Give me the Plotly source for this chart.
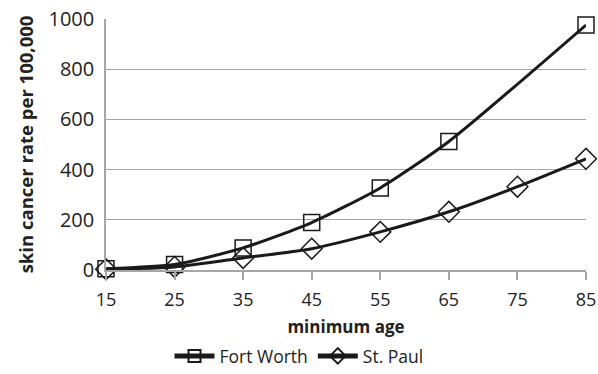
import plotly.graph_objects as go

ages = [15, 25, 35, 45, 55, 65, 75, 85]
fort_worth_ages = [15, 25, 35, 45, 55, 65, 85]
fort_worth = [5, 22, 88, 189, 327, 512, 976]
st_paul = [3, 12, 48, 85, 152, 232, 332, 443]

font = "'Open Sans', sans-serif"
ink = "#1a1a1a"
grid = "#a6a6a6"

fig = go.Figure()
series = [
    ("Fort Worth", fort_worth_ages, fort_worth, "square-open"),
    ("St. Paul", ages, st_paul, "diamond-open"),
]
for name, xs, ys, sym in series:
    fig.add_trace(go.Scatter(
        x=xs, y=ys, name=name, cliponaxis=False,
        mode="lines+markers", line=dict(color=ink, width=3, shape="spline", smoothing=0.6),
        marker=dict(symbol=sym, size=16, color=ink, line=dict(width=1.5)),
    ))

fig.update_layout(
    width=598, height=374,
    margin=dict(l=106, r=12, t=19, b=104, autoexpand=False),
    paper_bgcolor="white", plot_bgcolor="white",
    font=dict(family=font, size=17, color="#222"),
    showlegend=True,
    legend=dict(orientation="h", x=0.5, xanchor="center", xref="container",
                y=-0.005, yanchor="bottom", yref="container", itemsizing="constant",
                font=dict(size=17.5), itemwidth=40, tracegroupgap=0),
    xaxis=dict(
        range=[15, 85], tickvals=ages, showgrid=False, zeroline=False,
        showline=True, linecolor=grid, linewidth=1.5, automargin=False,
        ticks="outside", tickcolor=grid, ticklen=8, tickwidth=1.5,
        tickfont=dict(size=18), ticklabelstandoff=5,
        title=dict(text="<b>minimum age</b>", font=dict(size=17), standoff=12),
    ),
    yaxis=dict(
        range=[0, 1000], dtick=200, showgrid=True, gridcolor=grid, gridwidth=1.2,
        zeroline=False, showline=True, linecolor=grid, linewidth=1.5,
        ticks="", ticklabelstandoff=6, automargin=False, tickfont=dict(size=20),
        title=dict(text="<b>skin cancer rate per 100,000</b>", font=dict(size=18.5), standoff=10),
    ),
)

fig.write_html("out.html")
